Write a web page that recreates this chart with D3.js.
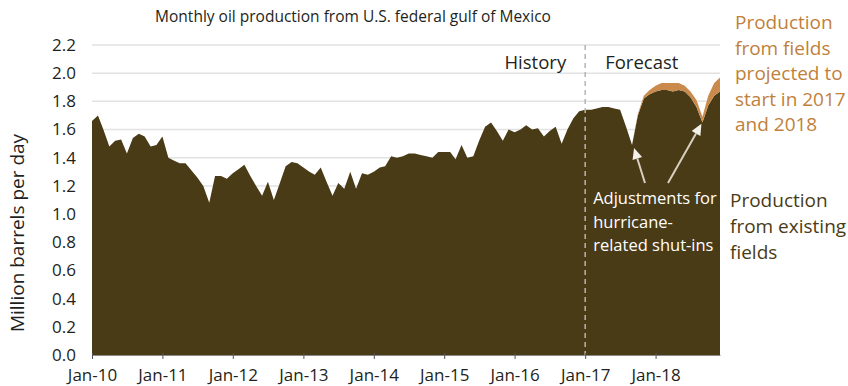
<!DOCTYPE html>
<html>
<head>
<meta charset="utf-8">
<script src="https://cdn.jsdelivr.net/npm/d3@7"></script>
<style>
  body { margin: 0; background: #fff; }
  svg text { font-family: "Open Sans", "Noto Sans", sans-serif; }
</style>
</head>
<body>
<div id="chart"></div>
<script>
// monthly values, Jan-2010 .. Dec-2018 (million barrels per day)
const startYear = 2010;
const existingFields = [
  1.66, 1.70, 1.60, 1.48, 1.52, 1.53, 1.43, 1.54, 1.57, 1.55, 1.48, 1.49,
  1.55, 1.40, 1.38, 1.36, 1.36, 1.31, 1.26, 1.20, 1.08, 1.27, 1.27, 1.25,
  1.29, 1.32, 1.35, 1.27, 1.20, 1.13, 1.23, 1.10, 1.22, 1.34, 1.37, 1.36,
  1.33, 1.30, 1.28, 1.33, 1.23, 1.13, 1.22, 1.18, 1.30, 1.18, 1.29, 1.28,
  1.30, 1.33, 1.34, 1.41, 1.40, 1.41, 1.43, 1.43, 1.42, 1.41, 1.40, 1.44,
  1.44, 1.44, 1.39, 1.49, 1.40, 1.41, 1.52, 1.62, 1.65, 1.59, 1.52, 1.60,
  1.58, 1.60, 1.63, 1.60, 1.61, 1.55, 1.59, 1.62, 1.50, 1.60, 1.68, 1.73,
  1.74, 1.74, 1.75, 1.76, 1.76, 1.75, 1.74, 1.62, 1.49, 1.70, 1.82, 1.85,
  1.87, 1.88, 1.88, 1.87, 1.88, 1.87, 1.83, 1.76, 1.65, 1.77, 1.84, 1.87
];
const newFields = [
  0,0,0,0,0,0,0,0,0,0,0,0,
  0,0,0,0,0,0,0,0,0,0,0,0,
  0,0,0,0,0,0,0,0,0,0,0,0,
  0,0,0,0,0,0,0,0,0,0,0,0,
  0,0,0,0,0,0,0,0,0,0,0,0,
  0,0,0,0,0,0,0,0,0,0,0,0,
  0,0,0,0,0,0,0,0,0,0,0,0,
  0,0,0,0,0,0,0,0,0,0.01,0.02,0.03,
  0.04,0.05,0.05,0.06,0.05,0.04,0.04,0.05,0.04,0.07,0.09,0.10
];
const yTicks = [0, 0.2, 0.4, 0.6, 0.8, 1.0, 1.2, 1.4, 1.6, 1.8, 2.0, 2.2];
const forecastStart = new Date(2017, 0, 1);

const data = existingFields.map((v, i) => ({
  date: new Date(startYear, i, 1),
  existing: v,
  added: newFields[i]
}));

const W = 848, H = 386;
const margin = {top: 45, right: 128, bottom: 31, left: 92};
const width = W - margin.left - margin.right,
      height = H - margin.top - margin.bottom;

const svg = d3.select("#chart").append("svg")
  .attr("width", W).attr("height", H);
const g = svg.append("g")
  .attr("transform", `translate(${margin.left},${margin.top})`);

const x = d3.scaleTime()
  .domain([data[0].date, data[data.length - 1].date])
  .range([0, width]);
const y = d3.scaleLinear().domain([0, 2.2]).range([height, 0]);

// grid lines
g.append("g")
  .selectAll("line")
  .data(yTicks.filter(d => d > 0))
  .enter().append("line")
  .attr("x1", 0).attr("x2", width)
  .attr("y1", d => y(d)).attr("y2", d => y(d))
  .attr("stroke", "#e2e2e2").attr("stroke-width", 1.5);

const stack = d3.stack().keys(["existing", "added"]);
const series = stack(data);
const area = d3.area()
  .x(d => x(d.data.date))
  .y0(d => y(d[0]))
  .y1(d => y(d[1]));

g.selectAll("path.layer")
  .data(series)
  .enter().append("path")
  .attr("class", "layer")
  .attr("d", area)
  .attr("fill", (d, i) => i === 0 ? "#4a3b17" : "#c98a4b");

// history / forecast divider
g.append("line")
  .attr("x1", x(forecastStart)).attr("x2", x(forecastStart))
  .attr("y1", 0).attr("y2", height + 4)
  .attr("stroke", "#b8b4aa").attr("stroke-width", 1.5)
  .attr("stroke-dasharray", "5,4");

g.append("text").attr("x", x(forecastStart) - 19).attr("y", 24)
  .attr("text-anchor", "end").attr("font-size", 18.5).attr("fill", "#231f20")
  .text("History");
g.append("text").attr("x", x(forecastStart) + 20).attr("y", 24)
  .attr("font-size", 18.5).attr("fill", "#231f20")
  .text("Forecast");

// axes
const xAxis = g.append("g")
  .attr("transform", `translate(0,${height})`)
  .call(d3.axisBottom(x)
    .ticks(d3.timeYear.every(1))
    .tickFormat(d3.timeFormat("%b-%y"))
    .tickSize(6).tickSizeOuter(0));
xAxis.select(".domain").attr("stroke", "#8a8a8a");
xAxis.selectAll(".tick line").attr("stroke", "#555").attr("transform", "translate(0,-2)");
xAxis.selectAll(".tick text").attr("font-size", 17).attr("fill", "#231f20")
  .attr("font-family", "Open Sans").attr("y", 26).attr("dy", 0);

const yAxis = g.append("g")
  .call(d3.axisLeft(y).tickValues(yTicks).tickFormat(d3.format(".1f")).tickSize(0));
yAxis.select(".domain").remove();
yAxis.selectAll(".tick text").attr("font-size", 17).attr("fill", "#231f20")
  .attr("font-family", "Open Sans").attr("x", -16);

svg.append("text")
  .attr("transform", `translate(24,233) rotate(-90)`)
  .attr("text-anchor", "middle").attr("font-size", 19).attr("fill", "#231f20")
  .text("Million barrels per day");

svg.append("text")
  .attr("x", 353).attr("y", 22)
  .attr("text-anchor", "middle").attr("font-size", 15.5).attr("fill", "#231f20")
  .text("Monthly oil production from U.S. federal gulf of Mexico");

// right side labels
const orangeLines = ["Production", "from fields", "projected to", "start in 2017", "and 2018"];
svg.append("text").attr("x", 735).attr("y", 29)
  .attr("font-size", 19).attr("fill", "#c07f3c")
  .selectAll("tspan").data(orangeLines).enter().append("tspan")
  .attr("x", 735).attr("dy", (d, i) => i === 0 ? 0 : 25.5).text(d => d);

const brownLines = ["Production", "from existing", "fields"];
svg.append("text").attr("x", 730).attr("y", 207)
  .attr("font-size", 19).attr("fill", "#4a3b17")
  .selectAll("tspan").data(brownLines).enter().append("tspan")
  .attr("x", 730).attr("dy", (d, i) => i === 0 ? 0 : 26).text(d => d);

// hurricane annotation
const noteLines = ["Adjustments for", "hurricane-", "related shut-ins"];
g.append("text").attr("x", x(forecastStart) + 8).attr("y", 159)
  .attr("font-size", 16.5).attr("fill", "#ffffff")
  .selectAll("tspan").data(noteLines).enter().append("tspan")
  .attr("x", x(forecastStart) + 8).attr("dy", (d, i) => i === 0 ? 0 : 23.5).text(d => d);

const dip1 = data[92], dip2 = data[104];
const arrows = [
  {x1: 645 - margin.left, y1: 183 - margin.top, x2: x(dip1.date) + 2, y2: y(dip1.existing + dip1.added) + 3},
  {x1: 668 - margin.left, y1: 183 - margin.top, x2: x(dip2.date) - 1, y2: y(dip2.existing + dip2.added) + 7}
];
arrows.forEach(a => {
  const ang = Math.atan2(a.y2 - a.y1, a.x2 - a.x1);
  const hl = 11, hw = 5;
  const bx = a.x2 - hl * Math.cos(ang), by = a.y2 - hl * Math.sin(ang);
  g.append("line").attr("x1", a.x1).attr("y1", a.y1).attr("x2", bx).attr("y2", by)
    .attr("stroke", "#d8d0bf").attr("stroke-width", 2);
  const px = -Math.sin(ang), py = Math.cos(ang);
  g.append("path")
    .attr("d", `M${a.x2},${a.y2}L${bx + hw * px},${by + hw * py}L${bx - hw * px},${by - hw * py}Z`)
    .attr("fill", "#f4f1ea");
});
</script>
</body>
</html>
